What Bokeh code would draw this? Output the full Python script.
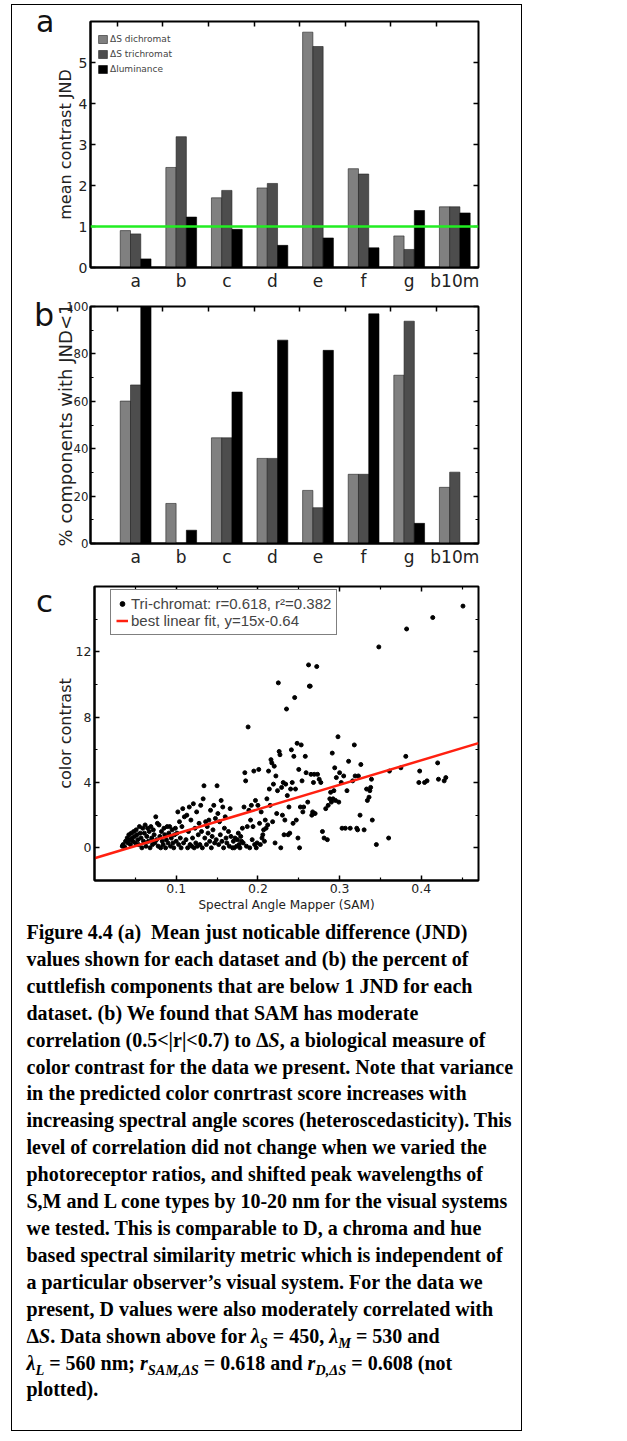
from bokeh.plotting import figure
from bokeh.models import FixedTicker, LinearAxis, Span, Div
from bokeh.layouts import column, row
from bokeh.embed import file_html
from bokeh.resources import INLINE

# ---------------- data ----------------
categories = ["a", "b", "c", "d", "e", "f", "g", "b10m"]

jnd_dichromat = [0.90, 2.44, 1.70, 1.94, 5.74, 2.41, 0.77, 1.48]
jnd_trichromat = [0.82, 3.19, 1.88, 2.05, 5.39, 2.28, 0.44, 1.48]
jnd_luminance = [0.21, 1.23, 0.93, 0.54, 0.72, 0.48, 1.39, 1.33]
jnd_threshold = 1.0

pct_dichromat = [60.1, 16.9, 44.6, 35.9, 22.4, 29.2, 71.0, 23.7]
pct_trichromat = [66.9, 0.0, 44.6, 35.9, 15.1, 29.2, 93.8, 30.1]
pct_luminance = [100.0, 5.6, 63.9, 85.8, 81.5, 96.9, 8.5, 0.0]

sam_x = [
    0.034, 0.035, 0.037, 0.038, 0.040, 0.041, 0.042, 0.043, 0.044, 0.045, 0.046, 0.047, 0.048,
    0.049, 0.050, 0.051, 0.052, 0.053, 0.054, 0.055, 0.056, 0.057, 0.058, 0.059, 0.060,
    0.061, 0.062, 0.063, 0.064, 0.065, 0.066, 0.067, 0.068, 0.069, 0.070, 0.071, 0.072, 0.073,
    0.074, 0.075, 0.076, 0.077, 0.078, 0.079, 0.080, 0.081, 0.082, 0.083, 0.084, 0.085, 0.086,
    0.087, 0.088, 0.089, 0.090,
    0.091, 0.092, 0.093, 0.094, 0.095, 0.096, 0.097, 0.098, 0.099, 0.100, 0.101, 0.102, 0.103,
    0.104, 0.105, 0.106, 0.107, 0.108, 0.109, 0.110, 0.112, 0.113, 0.114, 0.115, 0.116, 0.117,
    0.118, 0.119, 0.120,
    0.121, 0.122, 0.123, 0.124, 0.125, 0.126, 0.127, 0.128, 0.129, 0.130, 0.131, 0.132, 0.133,
    0.134, 0.135, 0.136, 0.137, 0.138, 0.139, 0.140, 0.141, 0.142, 0.143, 0.144, 0.145, 0.146,
    0.147, 0.148, 0.149, 0.150,
    0.151, 0.152, 0.153, 0.154, 0.155, 0.156, 0.157, 0.158, 0.159, 0.160, 0.161, 0.162, 0.164,
    0.165, 0.166, 0.167, 0.169, 0.170, 0.171, 0.172, 0.174, 0.175, 0.176, 0.177, 0.178, 0.179,
    0.180,
    0.181, 0.182, 0.183, 0.184, 0.185, 0.186, 0.187, 0.188, 0.189, 0.190, 0.191, 0.192, 0.193,
    0.194, 0.195, 0.196, 0.197, 0.198, 0.199, 0.200, 0.201, 0.202, 0.203, 0.204, 0.205, 0.206,
    0.207, 0.208, 0.209, 0.210,
    0.211, 0.212, 0.213, 0.214, 0.215, 0.216, 0.217, 0.218, 0.219, 0.220, 0.221, 0.222, 0.223,
    0.224, 0.225, 0.226, 0.227, 0.228, 0.229, 0.230, 0.231, 0.232, 0.233, 0.234, 0.235, 0.236,
    0.237, 0.238, 0.239, 0.240,
    0.241, 0.242, 0.243, 0.244, 0.245, 0.246, 0.247, 0.248, 0.249, 0.250, 0.251, 0.252, 0.253,
    0.254, 0.255, 0.256, 0.258, 0.259, 0.261, 0.262, 0.263, 0.264, 0.265, 0.266, 0.267, 0.268,
    0.269, 0.270,
    0.272, 0.273, 0.275, 0.277, 0.279, 0.281, 0.283, 0.285, 0.286, 0.288, 0.289, 0.290, 0.291,
    0.292, 0.293, 0.294, 0.295, 0.296, 0.298, 0.299, 0.300,
    0.302, 0.303, 0.305, 0.307, 0.309, 0.311, 0.313, 0.316, 0.318, 0.319, 0.321, 0.322, 0.323,
    0.325, 0.326, 0.330, 0.333, 0.334, 0.336, 0.337, 0.338, 0.339, 0.340, 0.345, 0.348,
    0.360, 0.361, 0.375, 0.381, 0.382, 0.398, 0.397, 0.404, 0.407, 0.414, 0.420, 0.421, 0.428,
    0.430, 0.451,
]
color_contrast = [
    0.1, 0.2, 0.05, 0.4, 0.6, 0.3, 0.8, 0.5, 0.2, 0.9, 0.6, 0.4, 1.0,
    0.7, 0.3, 1.1, 0.8, 0.5, 0.2, 1.3, 0.9, 0.6, 0.0, 1.2, 0.4,
    0.9, 1.4, 0.1, 0.7, 1.2, 0.4, 1.0, 0.0, 1.3, 0.6, 0.2, 1.1, 0.8,
    0.3, 1.9, 0.5, 1.5, 0.1, 1.4, 0.7, 0.0, 1.0, 0.4, 0.2, 1.2, 0.8,
    0.0, 0.5, 1.3, 0.3,
    0.9, 1.3, 0.1, 0.6, 1.1, 0.3, 0.0, 0.8, 1.2, 0.4, 0.9, 2.2, 0.2,
    1.6, 0.6, 0.0, 1.3, 2.4, 0.3, 1.9, 0.5, 2.0, 0.0, 1.0, 2.5, 0.2,
    1.7, 0.1, 0.6,
    2.7, 0.0, 1.2, 0.3, 2.2, 0.1, 0.8, 1.5, 0.2, 2.6, 1.0, 0.0, 3.0,
    3.8, 0.6, 1.6, 0.2, 1.3, 0.9, 1.7, 0.4, 2.3, 0.0, 0.7, 1.1, 2.6,
    0.3, 1.8, 0.5, 3.8,
    2.1, 0.2, 1.6, 0.8, 2.9, 0.4, 2.5, 0.0, 1.2, 1.9, 0.6, 0.3, 1.0,
    0.1, 2.4, 0.7, 0.0, 0.4, 0.0, 0.6, 0.1, 0.5, 0.9, 0.2, 0.0, 0.7,
    0.4,
    1.2, 0.3, 2.5, 4.6, 4.1, 0.1, 1.3, 7.4, 2.3, 0.0, 1.7, 2.6, 0.5,
    1.3, 4.7, 0.2, 2.9, 0.0, 0.3, 2.6, 4.8, 1.5, 0.2, 2.2, 0.6, 0.8,
    1.1, 0.4, 1.7, 1.2,
    3.0, 1.4, 4.7, 3.6, 2.6, 5.4, 5.2, 1.6, 3.9, 5.0, 0.3, 4.4, 2.1,
    3.5, 10.1, 5.9, 5.7, 0.0, 3.7, 2.0, 4.0, 0.8, 1.7, 3.9, 8.5, 3.2,
    0.8, 2.5, 0.9, 3.6,
    6.0, 4.0, 1.5, 5.6, 9.2, 3.6, 1.7, 6.4, 0.6, 4.8, 0.0, 2.5, 6.3,
    4.1, 2.2, 2.5, 5.6, 4.6, 2.8, 11.2, 9.9, 9.9, 4.5, 2.0, 2.2, 4.0,
    4.5, 2.1,
    11.1, 4.5, 4.2, 4.0, 1.0, 0.6, 2.4, 0.5, 2.6, 3.0, 3.4, 2.8, 5.8,
    3.0, 3.5, 4.9, 2.9, 4.3, 6.8, 2.8, 4.6,
    4.0, 1.2, 4.4, 1.2, 3.5, 5.3, 1.2, 4.1, 6.3, 4.4, 1.2, 1.1, 4.4,
    2.0, 5.1, 1.1, 3.6, 2.9, 3.1, 3.5, 3.7, 4.2, 1.7, 0.2, 12.3,
    0.6, 4.7, 4.9, 5.6, 13.4, 4.7, 4.0, 4.0, 4.1, 14.1, 5.2, 4.2, 4.1,
    4.3, 14.8,
]
fit_slope = 15.0
fit_intercept = -0.64
sam_axis_max = 0.47

# ---------------- style helpers ----------------
FONT = "DejaVu Sans"
GRAY_D = "#808080"
GRAY_T = "#4d4d4d"
BLACK = "#000000"
W = 509
LETTER_W = 40
FW = W - LETTER_W


def base_fig(height, top, bottom, x_range, y_range):
    p = figure(width=FW, height=height, x_range=x_range, y_range=y_range,
               output_backend="svg", toolbar_location=None,
               min_border_left=38, min_border_right=43,
               min_border_top=top, min_border_bottom=bottom)
    p.xgrid.visible = False
    p.ygrid.visible = False
    p.outline_line_color = "black"
    p.outline_line_width = 2
    p.outline_line_alpha = 1
    for ax in (p.xaxis[0], p.yaxis[0]):
        ax.axis_line_width = 2
        ax.axis_line_color = "black"
        ax.major_tick_in = 5
        ax.major_tick_out = 0
        ax.minor_tick_in = 3
        ax.minor_tick_out = 0
        ax.major_tick_line_width = 1.5
        ax.minor_tick_line_width = 1.2
        ax.major_label_text_font = FONT
        ax.major_label_text_color = "#222222"
        ax.axis_label_text_font = FONT
        ax.axis_label_text_font_style = "normal"
        ax.axis_label_text_color = "#222222"
    return p


def mirror_axes(p, xticker, yticker, minor=False):
    for side, ticker in (("above", xticker), ("right", yticker)):
        ax = LinearAxis(ticker=ticker, axis_line_color=None,
                        major_tick_in=5, major_tick_out=0,
                        minor_tick_in=3 if minor else 0, minor_tick_out=0,
                        major_tick_line_width=1.5, minor_tick_line_width=1.2,
                        major_label_text_font_size="0px", major_label_text_alpha=0,
                        major_label_standoff=0)
        p.add_layout(ax, side)


def letter_div(letter, size, pad_left, pad_top, height):
    html = ('<div style="font-family:\'DejaVu Sans\';font-size:%dpx;line-height:%dpx;'
            'padding-left:%dpx;padding-top:%dpx;color:#111;white-space:nowrap;">%s</div>'
            % (size, size, pad_left, pad_top, letter))
    return Div(text=html, width=LETTER_W, height=height, margin=0)


group_pos = list(range(len(categories)))
bar_w = 0.225
x_d = [g - bar_w for g in group_pos]
x_t = [g for g in group_pos]
x_l = [g + bar_w for g in group_pos]
label_map = {g: c for g, c in zip(group_pos, categories)}
X_RANGE = (-0.99, 7.52)

# ---------------- panel a ----------------
H1 = 291
p1 = base_fig(H1, 16, 29, X_RANGE, (0, 6))
p1.vbar(x=x_d, top=jnd_dichromat, width=bar_w, fill_color=GRAY_D, line_color="#222222",
        line_width=0.6, legend_label="\u0394S dichromat")
p1.vbar(x=x_t, top=jnd_trichromat, width=bar_w, fill_color=GRAY_T, line_color="#222222",
        line_width=0.6, legend_label="\u0394S trichromat")
p1.vbar(x=x_l, top=jnd_luminance, width=bar_w, fill_color=BLACK, line_color="#000000",
        line_width=0.6, legend_label="\u0394luminance")
p1.add_layout(Span(location=jnd_threshold, dimension="width", line_color="#22ee22", line_width=2.5))
p1.xaxis.ticker = FixedTicker(ticks=group_pos)
p1.xaxis.major_label_overrides = label_map
p1.xaxis.major_label_text_font_size = "17px"
p1.xaxis.major_label_standoff = 3
p1.xaxis.major_tick_in = 0
p1.yaxis.ticker = FixedTicker(ticks=[0, 1, 2, 3, 4, 5])
p1.yaxis.major_label_text_font_size = "14px"
p1.yaxis.major_label_standoff = 3
p1.yaxis.axis_label = "mean contrast JND"
p1.yaxis.axis_label_text_font_size = "16px"
p1.yaxis.axis_label_standoff = 1
mirror_axes(p1, FixedTicker(ticks=[g - 0.4 for g in group_pos]), FixedTicker(ticks=[0, 1, 2, 3, 4, 5]))
lg = p1.legend[0]
lg.location = (7, 193)
lg.padding = 0
lg.spacing = 5
lg.margin = 0
lg.glyph_height = 10
lg.glyph_width = 11
lg.label_height = 10
lg.label_standoff = 2
lg.label_text_font = FONT
lg.label_text_font_size = "9px"
lg.border_line_color = None
lg.background_fill_alpha = 0

# ---------------- panel b ----------------
H2 = 276
p2 = base_fig(H2, 10, 29, X_RANGE, (0, 100))
p2.vbar(x=x_d, top=pct_dichromat, width=bar_w, fill_color=GRAY_D, line_color="#222222", line_width=0.6)
p2.vbar(x=x_t, top=pct_trichromat, width=bar_w, fill_color=GRAY_T, line_color="#222222", line_width=0.6)
p2.vbar(x=x_l, top=pct_luminance, width=bar_w, fill_color=BLACK, line_color="#000000", line_width=0.6)
p2.xaxis.ticker = FixedTicker(ticks=group_pos)
p2.xaxis.major_label_overrides = label_map
p2.xaxis.major_label_text_font_size = "17px"
p2.xaxis.major_label_standoff = 3
p2.xaxis.major_tick_in = 0
p2.yaxis.ticker = FixedTicker(ticks=[0, 20, 40, 60, 80, 100], minor_ticks=[10, 30, 50, 70, 90])
p2.yaxis.major_label_text_font = "DejaVu Sans Condensed"
p2.yaxis.major_label_text_font_size = "13px"
p2.yaxis.major_label_standoff = 2
p2.yaxis.axis_label = "% components with JND<1"
p2.yaxis.axis_label_text_font_size = "18px"
p2.yaxis.axis_label_standoff = -13
mirror_axes(p2, FixedTicker(ticks=[g - 0.4 for g in group_pos]),
            FixedTicker(ticks=[0, 20, 40, 60, 80, 100], minor_ticks=[10, 30, 50, 70, 90]), minor=True)

# ---------------- panel c ----------------
H3 = 343
p3 = base_fig(H3, 14, 35, (0, sam_axis_max), (-2, 16))
p3.scatter(sam_x, color_contrast, size=4, color="black",
           legend_label="Tri-chromat: r=0.618, r\u00b2=0.382")
fit_x = [0, sam_axis_max]
fit_y = [fit_slope * v + fit_intercept for v in fit_x]
p3.line(fit_x, fit_y, line_color="#ff2010", line_width=2.5,
        legend_label="best linear fit, y=15x-0.64")
p3.xaxis.ticker = FixedTicker(ticks=[0.1, 0.2, 0.3, 0.4], minor_ticks=[0.05, 0.15, 0.25, 0.35, 0.45])
p3.yaxis.ticker = FixedTicker(ticks=[0, 4, 8, 12], minor_ticks=[-2, 2, 6, 10, 14])
p3.xaxis.major_label_text_font_size = "12.5px"
p3.yaxis.major_label_text_font_size = "12.5px"
p3.xaxis.major_label_standoff = 3
p3.yaxis.major_label_standoff = 3
p3.xaxis.axis_label = "Spectral Angle Mapper (SAM)"
p3.xaxis.axis_label_text_font_size = "12px"
p3.xaxis.axis_label_standoff = 2
p3.yaxis.axis_label = "color contrast"
p3.yaxis.axis_label_text_font_size = "16px"
p3.yaxis.axis_label_standoff = -2
mirror_axes(p3, FixedTicker(ticks=[0.1, 0.2, 0.3, 0.4], minor_ticks=[0.05, 0.15, 0.25, 0.35, 0.45]),
            FixedTicker(ticks=[0, 4, 8, 12], minor_ticks=[-2, 2, 6, 10, 14]), minor=True)
lc = p3.legend[0]
lc.location = (16, 245)
lc.padding = 5
lc.spacing = 0
lc.margin = 0
lc.glyph_height = 17
lc.glyph_width = 12
lc.label_height = 17
lc.label_standoff = 3
lc.label_text_font = "Liberation Sans"
lc.label_text_font_size = "15px"
lc.border_line_color = "black"
lc.border_line_width = 1
lc.background_fill_alpha = 1

# ---------------- caption ----------------
caption_lines = [
    "Figure 4.4 (a)&nbsp; Mean just noticable difference (JND)",
    "values shown for each dataset and (b) the percent of",
    "cuttlefish components that are below 1 JND for each",
    "dataset. (b) We found that SAM has moderate",
    "correlation (0.5&lt;|r|&lt;0.7) to &Delta;<i>S</i>, a biological measure of",
    "color contrast for the data we present. Note that variance",
    "in the predicted color conrtrast score increases with",
    "increasing spectral angle scores (heteroscedasticity). This",
    "level of correlation did not change when we varied the",
    "photoreceptor ratios, and shifted peak wavelengths of",
    "S,M and L cone types by 10-20 nm for the visual systems",
    "we tested. This is comparable to D, a chroma and hue",
    "based spectral similarity metric which is independent of",
    "a particular observer\u2019s visual system. For the data we",
    "present, D values were also moderately correlated with",
    "&Delta;<i>S</i>. Data shown above for <i>&lambda;<sub>S</sub></i> = 450, "
    "<i>&lambda;<sub>M</sub></i> = 530 and",
    "<i>&lambda;<sub>L</sub></i> = 560 nm; <i>r<sub>SAM,&Delta;S</sub></i> = 0.618 and "
    "<i>r<sub>D,&Delta;S</sub></i> = 0.608 (not",
    "plotted).",
]
SUB = '<sub style="line-height:0;font-size:72%">'
caption_html = (
    '<div style="font-family:\'Liberation Serif\',serif;font-weight:bold;font-size:20px;'
    'line-height:26.9px;padding-left:14.5px;padding-top:4px;white-space:nowrap;color:#000;">'
    + "<br>".join(caption_lines).replace("<sub>", SUB) + "</div>"
)
cap = Div(text=caption_html, width=W, height=515, margin=0)

layout = column(
    row(letter_div("a", 30, 24, 2, H1), p1),
    row(letter_div("b", 32, 22, 3, H2), p2),
    row(letter_div("c", 31, 24, 14, H3), p3),
    cap,
    styles={"border": "1.5px solid black"}, margin=(4, 0, 0, 11),
)

open("out.html", "w").write(file_html(layout, INLINE))
